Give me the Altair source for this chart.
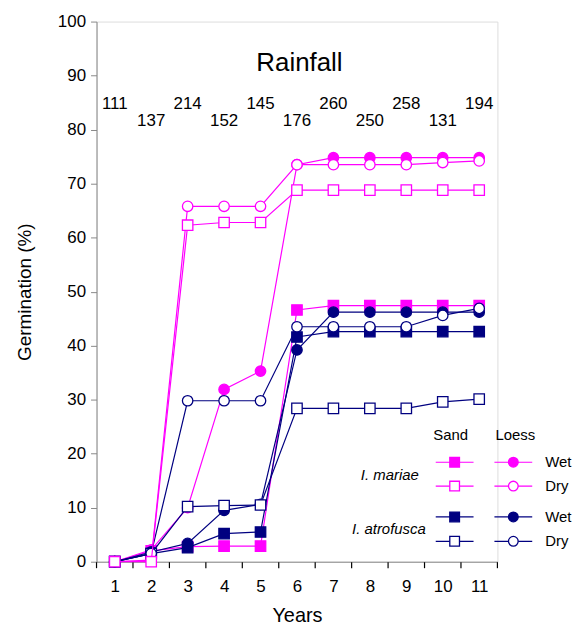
import altair as alt
import pandas as pd

# ---------------- data ----------------
years = list(range(1, 12))
rainfall = [111, 137, 214, 152, 145, 176, 260, 250, 258, 131, 194]

mariae_sand_wet = [0, 2.0, 2.8, 2.9, 2.9, 46.6, 47.4, 47.4, 47.4, 47.4, 47.4]
mariae_sand_dry = [0, 0, 62.3, 62.8, 62.8, 68.8, 68.8, 68.8, 68.8, 68.8, 68.8]
mariae_loess_wet = [0, 2.2, 10.0, 31.9, 35.3, 73.5, 74.8, 74.8, 74.8, 74.8, 74.8]
mariae_loess_dry = [0, 0.3, 65.8, 65.8, 65.8, 73.5, 73.5, 73.5, 73.5, 73.9, 74.2]
atro_sand_wet = [0, 1.5, 2.6, 5.2, 5.5, 41.6, 42.6, 42.6, 42.6, 42.6, 42.6]
atro_sand_dry = [0, 1.5, 10.2, 10.4, 10.5, 28.4, 28.4, 28.4, 28.4, 29.6, 30.1]
atro_loess_wet = [0, 1.8, 3.4, 9.5, 10.6, 39.2, 46.2, 46.2, 46.2, 46.2, 46.2]
atro_loess_dry = [0, 1.5, 29.8, 29.8, 29.8, 43.5, 43.5, 43.5, 43.5, 45.6, 46.9]

# x-axis tick marks sit between the years
tick_positions = [0.5, 1.5, 2.5, 3.5, 4.5, 5.5, 6.5, 7.5, 8.5, 9.5, 10.5, 11.5]

MAGENTA = "#FF00FF"
NAVY = "#000080"

# drawing order (later = on top)
series = [
    ("mariae", "Sand", "Wet", mariae_sand_wet),
    ("mariae", "Loess", "Wet", mariae_loess_wet),
    ("mariae", "Loess", "Dry", mariae_loess_dry),
    ("atrofusca", "Sand", "Wet", atro_sand_wet),
    ("atrofusca", "Loess", "Wet", atro_loess_wet),
    ("atrofusca", "Sand", "Dry", atro_sand_dry),
    ("atrofusca", "Loess", "Dry", atro_loess_dry),
    ("mariae", "Sand", "Dry", mariae_sand_dry),
]

FONT = "Liberation Sans"
W, H = 403, 543

x_enc = alt.X(
    "year:Q",
    scale=alt.Scale(domain=[0.5, 11.5], nice=False, zero=False),
    axis=alt.Axis(
        values=years,
        format="d",
        ticks=False,
        labelPadding=17,
        labelOverlap=False,
        labelFlush=False,
        labelFontSize=17,
        grid=False,
        title="Years",
        titleFontSize=20,
        titleFontWeight="normal",
        titlePadding=11,
    ),
)
y_enc = alt.Y(
    "value:Q",
    scale=alt.Scale(domain=[0, 100], nice=False),
    axis=alt.Axis(
        values=list(range(0, 101, 10)),
        tickSize=6,
        labelPadding=5,
        labelFontSize=17,
        grid=False,
        title="Germination (%)",
        titleFontSize=19,
        titleFontWeight="normal",
        titlePadding=23,
    ),
)

layers = []

# tick marks for the x axis (between years)
tick_df = pd.DataFrame({"year": tick_positions})
layers.append(
    alt.Chart(tick_df).mark_tick(
        color="black", orient="vertical", size=6, thickness=1.2, opacity=1
    ).encode(x=x_enc, y=alt.value(H + 3.5))
)

for sp, soil, cond, vals in series:
    col = MAGENTA if sp == "mariae" else NAVY
    shape = "square" if soil == "Sand" else "circle"
    fill = col if cond == "Wet" else "white"
    df = pd.DataFrame({"year": years, "value": vals})
    base = alt.Chart(df)
    line = base.mark_line(color=col, strokeWidth=1.2).encode(x=x_enc, y=y_enc)
    pts = base.mark_point(
        shape=shape, filled=True, fill=fill, stroke=col, strokeWidth=1.3,
        size=110, opacity=1,
    ).encode(x=x_enc, y=y_enc)
    layers += [line, pts]

# rainfall annotation
rain_df = pd.DataFrame({"year": years, "rain": rainfall, "idx": list(range(11))})
rain_upper = alt.Chart(rain_df).transform_filter("datum.idx % 2 === 0").mark_text(
    font=FONT, fontSize=17, color="black", baseline="middle", align="center"
).encode(x=x_enc, y=alt.value(83), text="rain:Q")
rain_lower = alt.Chart(rain_df).transform_filter("datum.idx % 2 === 1").mark_text(
    font=FONT, fontSize=17, color="black", baseline="middle", align="center"
).encode(x=x_enc, y=alt.value(100), text="rain:Q")
rain_title = alt.Chart(pd.DataFrame({"t": ["Rainfall"]})).mark_text(
    font=FONT, fontSize=26, color="black", baseline="middle", align="center"
).encode(x=alt.value(204), y=alt.value(42), text="t:N")
layers += [rain_upper, rain_lower, rain_title]

# custom legend (layout in pixels relative to the plot area)
leg_rows = [
    ("mariae", "Wet", 443),
    ("mariae", "Dry", 467),
    ("atrofusca", "Wet", 498),
    ("atrofusca", "Dry", 522.5),
]
leg_cols = [("Sand", 360, "square"), ("Loess", 419, "circle")]
for sp, cond, ly in leg_rows:
    col = MAGENTA if sp == "mariae" else NAVY
    fill = col if cond == "Wet" else "white"
    for soil, lx, shape in leg_cols:
        one = alt.Chart(pd.DataFrame({"a": [0]}))
        layers.append(
            one.mark_rule(color=col, strokeWidth=1.2).encode(
                x=alt.value(lx - 19), x2=alt.value(lx + 19), y=alt.value(ly)
            )
        )
        layers.append(
            one.mark_point(shape=shape, filled=True, fill=fill, stroke=col,
                           strokeWidth=1.3, size=95, opacity=1).encode(
                x=alt.value(lx), y=alt.value(ly)
            )
        )
    layers.append(
        alt.Chart(pd.DataFrame({"t": [cond]})).mark_text(
            font=FONT, fontSize=15, align="left", baseline="middle", color="black"
        ).encode(x=alt.value(451), y=alt.value(ly), text="t:N")
    )

leg_text = [
    ("Sand", 356, 416, "center", "normal"),
    ("Loess", 421, 416, "center", "normal"),
    ("I. mariae", 324, 456, "right", "italic"),
    ("I. atrofusca", 331, 510.5, "right", "italic"),
]
for t, lx, ly, al, st in leg_text:
    layers.append(
        alt.Chart(pd.DataFrame({"t": [t]})).mark_text(
            font=FONT, fontSize=15, align=al, baseline="middle", color="black",
            fontStyle=st,
        ).encode(x=alt.value(lx), y=alt.value(ly), text="t:N")
    )

chart = alt.layer(*layers).properties(
    width=W, height=H,
    autosize=alt.AutoSizeParams(type="none"),
    padding={"left": 89, "top": 12, "right": 78, "bottom": 64},
).configure_view(stroke=None).configure_axis(
    labelFont=FONT, titleFont=FONT, domainColor="black", tickColor="black",
    labelColor="black", titleColor="black", domainWidth=1.2, tickWidth=1.2,
).configure(background="white")

chart.save("out.html", embed_options={"renderer": "svg", "actions": False})
